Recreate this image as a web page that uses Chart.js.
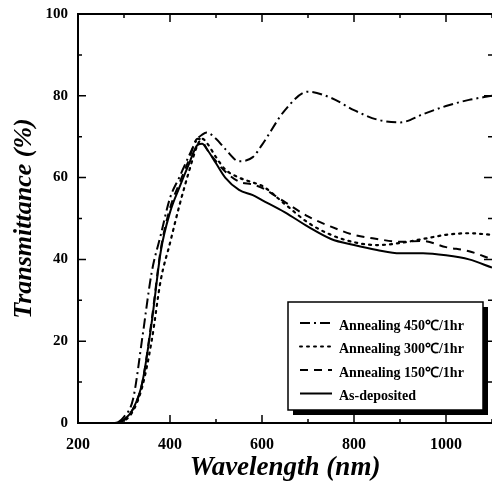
<!DOCTYPE html>
<html lang="en">

<head>
    <meta charset="UTF-8">
    <title>Transmittance</title>
    <style>
        body { margin: 0; background: #fff; }
    </style>
</head>

<body>
    <div style="width: 492px; height: 484px;">
        <canvas id="myChart"></canvas>
    </div>
    <script src="https://cdn.jsdelivr.net/npm/chart.js"></script>
    <script>
        // wavelength (nm) and transmittance (%)
        const wavelength = [200, 260, 280, 300, 320, 340, 360, 380, 400, 420, 440, 460, 470, 480, 500, 520, 550, 580, 600, 650, 700, 750, 800, 850, 900, 950, 1000, 1050, 1100];
        const anneal450 = [0, 0, 0, 1.5, 6, 21, 36.7, 46, 55, 60, 65, 69.5, 70.5, 71, 69.5, 67, 64, 65, 68, 76.5, 81, 79.5, 76.5, 74.2, 73.5, 75.5, 77.5, 79, 80];
        const anneal300 = [0, 0, 0, 0.5, 3, 9, 20, 35, 44, 53, 61, 68, 69.5, 68.5, 65, 62, 60, 58.8, 58, 53.5, 49, 46, 44.2, 43.5, 44, 45, 46, 46.4, 46];
        const anneal150 = [0, 0, 0, 0.8, 3.5, 10, 25, 42.5, 52.5, 58.5, 64, 69.5, 69, 67, 64, 61.5, 59, 58.3, 57.5, 54, 50.5, 48, 46, 45, 44.3, 44.5, 43, 42, 40];
        const asDeposited = [0, 0, 0, 0.8, 3.5, 10, 24.4, 42, 51.5, 57.5, 63, 68, 68.3, 67, 63.5, 60, 57, 55.7, 54.5, 51.5, 48, 45, 43.5, 42.3, 41.5, 41.5, 41, 40, 38];

        const labels = ['Annealing 450℃/1hr', 'Annealing 300℃/1hr', 'Annealing 150℃/1hr', 'As-deposited'];
        const series = [anneal450, anneal300, anneal150, asDeposited];
        const dashes = [[10, 4, 2, 4], [2, 5], [8, 6], []];

        const serif = '"Liberation Serif", "Times New Roman", serif';

        const datasets = series.map((s, i) => ({
            label: labels[i],
            data: wavelength.map((w, j) => ({ x: w, y: s[j] })),
            borderColor: '#000',
            borderWidth: i == 1 ? 2.2 : 2,
            borderDash: dashes[i],
            borderCapStyle: i == 1 ? 'round' : 'butt',
            pointRadius: 0,
            cubicInterpolationMode: 'monotone',
            fill: false
        }));

        // frame with inward ticks
        const frame = {
            id: 'frame',
            afterDraw(chart) {
                const { ctx, chartArea: a, scales: { x, y } } = chart;
                ctx.save();
                ctx.strokeStyle = '#000';
                ctx.lineWidth = 2;
                ctx.beginPath();
                ctx.moveTo(a.right, a.top);
                ctx.lineTo(a.left, a.top);
                ctx.lineTo(a.left, a.bottom);
                ctx.lineTo(a.right, a.bottom);
                ctx.stroke();
                ctx.lineWidth = 1.5;
                ctx.beginPath();
                x.ticks.forEach(t => {
                    const px = x.getPixelForValue(t.value);
                    const len = t.value % 200 == 0 ? 8 : 4;
                    ctx.moveTo(px, a.bottom); ctx.lineTo(px, a.bottom - len);
                    ctx.moveTo(px, a.top); ctx.lineTo(px, a.top + len);
                });
                y.ticks.forEach(t => {
                    const py = y.getPixelForValue(t.value);
                    const len = t.value % 20 == 0 ? 8 : 4;
                    ctx.moveTo(a.left, py); ctx.lineTo(a.left + len, py);
                    ctx.moveTo(a.right, py); ctx.lineTo(a.right - len, py);
                });
                ctx.stroke();
                ctx.restore();
            }
        };

        // boxed legend with shadow, lower right inside the plot
        const boxLegend = {
            id: 'boxLegend',
            afterDraw(chart) {
                const ctx = chart.ctx;
                const bx = 288, by = 302, bw = 195, bh = 108;
                ctx.save();
                ctx.fillStyle = '#000';
                ctx.fillRect(bx + 5, by + 5, bw, bh);
                ctx.fillStyle = '#fff';
                ctx.fillRect(bx, by, bw, bh);
                ctx.strokeStyle = '#000';
                ctx.lineWidth = 1.5;
                ctx.strokeRect(bx, by, bw, bh);
                ctx.font = 'bold 14px ' + serif;
                ctx.textBaseline = 'middle';
                ctx.fillStyle = '#000';
                chart.data.datasets.forEach((ds, i) => {
                    const ly = by + 21 + i * 23.5;
                    ctx.setLineDash(ds.borderDash);
                    ctx.lineWidth = 2;
                    ctx.lineCap = ds.borderCapStyle;
                    ctx.beginPath();
                    ctx.moveTo(bx + 12, ly);
                    ctx.lineTo(bx + 44, ly);
                    ctx.stroke();
                    ctx.setLineDash([]);
                    ctx.fillText(ds.label, bx + 51, ly + 3);
                });
                ctx.restore();
            }
        };

        new Chart(document.getElementById('myChart'), {
            type: 'line',
            data: { datasets: datasets },
            options: {
                responsive: true,
                maintainAspectRatio: false,
                animation: false,
                layout: { padding: { top: 14, right: 0, left: 0, bottom: 0 } },
                scales: {
                    x: {
                        type: 'linear',
                        min: 200,
                        max: 1100,
                        afterFit: s => { s.height = 61; s.paddingLeft = 0; s.paddingRight = 0; },
                        grid: { display: false, drawTicks: false },
                        border: { display: false },
                        ticks: {
                            stepSize: 100,
                            autoSkip: false,
                            maxRotation: 0,
                            padding: 12,
                            color: '#000',
                            font: { family: serif, size: 16, weight: 'bold' },
                            callback: v => (v % 200 == 0 && v < 1100) ? v : ''
                        },
                        title: {
                            display: true,
                            text: 'Wavelength (nm)',
                            color: '#000',
                            font: { family: serif, size: 27, weight: 'bold', style: 'italic' },
                            padding: { top: 0, bottom: 0 }
                        }
                    },
                    y: {
                        min: 0,
                        max: 100,
                        afterFit: s => { s.width = 78; s.paddingTop = 0; s.paddingBottom = 0; },
                        grid: { display: false, drawTicks: false },
                        border: { display: false },
                        ticks: {
                            stepSize: 10,
                            autoSkip: false,
                            padding: 10,
                            color: '#000',
                            font: { family: serif, size: 15, weight: 'bold' },
                            callback: v => v % 20 == 0 ? v : ''
                        },
                        title: {
                            display: true,
                            text: 'Transmittance (%)',
                            color: '#000',
                            font: { family: serif, size: 26, weight: 'bold', style: 'italic' },
                            padding: { top: 9, bottom: 0 }
                        }
                    }
                },
                plugins: {
                    legend: { display: false },
                    tooltip: { enabled: false }
                }
            },
            plugins: [frame, boxLegend]
        });
    </script>
</body>

</html>
